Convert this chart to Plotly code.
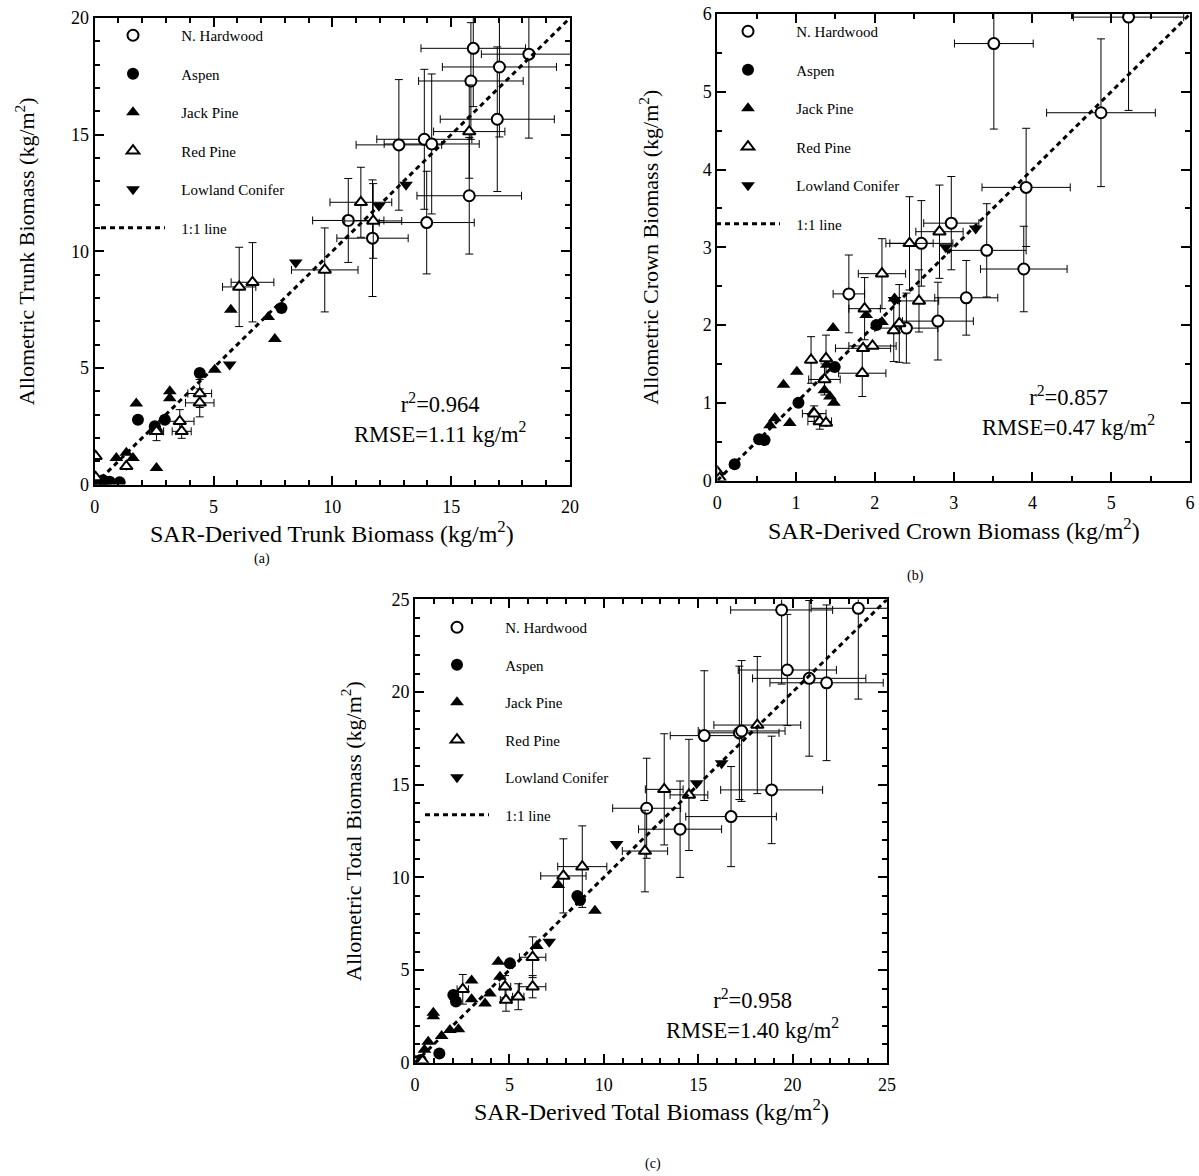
import plotly.graph_objects as go

FONT = "Liberation Serif, Times New Roman, serif"
W, H = 1199, 1176

# ---------------- Panel (a): Trunk biomass ----------------
trunk_hw_x = [15.93, 18.27, 17.03, 15.83, 16.94, 13.87, 14.18, 12.80, 15.76, 13.97, 10.67, 11.69]
trunk_hw_y = [18.70, 18.45, 17.90, 17.30, 15.66, 14.80, 14.60, 14.56, 12.38, 11.23, 11.32, 10.56]
trunk_hw_ex = [2.2, 2.0, 2.4, 2.2, 2.4, 2.0, 2.0, 1.8, 2.2, 2.0, 1.5, 1.5]
trunk_hw_ey = [2.5, 3.6, 3.0, 2.5, 3.1, 3.0, 3.0, 2.8, 2.5, 2.2, 1.8, 2.5]

trunk_aspen_x = [7.86, 4.42, 1.82, 2.95, 2.53, 0.07, 0.35, 0.63, 1.05]
trunk_aspen_y = [7.57, 4.78, 2.78, 2.78, 2.50, 0.12, 0.18, 0.12, 0.10]

trunk_jack_x = [5.73, 7.58, 7.30, 5.05, 3.16, 3.16, 1.75, 2.60, 2.60, 0.91, 1.33, 1.61, 0.20, 0.45]
trunk_jack_y = [7.49, 6.24, 7.18, 4.92, 4.00, 3.70, 3.47, 2.43, 0.71, 1.14, 1.36, 1.14, 0.05, 0.08]

trunk_red_x = [15.76, 11.20, 11.72, 9.68, 6.08, 6.64, 4.42, 4.42, 3.58, 3.66, 2.60, 1.33, 0.04, 0.04]
trunk_red_y = [15.13, 12.10, 11.30, 9.20, 8.47, 8.67, 3.50, 3.90, 2.71, 2.28, 2.28, 0.78, 1.21, 0.30]
trunk_red_ex = [1.5, 1.3, 1.2, 1.4, 0.7, 0.9, 0.6, 0.5, 0.6, 0.4, 0.3, None, None, None]
trunk_red_ey = [2.0, 1.5, 1.6, 1.8, 1.7, 1.7, 0.6, 0.6, 0.5, 0.3, 0.4, None, None, None]

trunk_low_x = [8.46, 5.68, 13.10, 11.96]
trunk_low_y = [9.52, 5.14, 12.85, 11.95]

trunk_line = [0, 20]

# ---------------- Panel (b): Crown biomass ----------------
crown_hw_x = [5.22, 3.51, 4.87, 3.92, 3.42, 3.89, 3.16, 2.97, 2.59, 2.80, 2.40, 1.67]
crown_hw_y = [5.96, 5.62, 4.73, 3.77, 2.96, 2.72, 2.35, 3.31, 3.05, 2.05, 1.96, 2.40]
crown_hw_ex = [0.70, 0.50, 0.69, 0.56, 0.50, 0.55, 0.40, 0.35, 0.40, 0.45, 0.40, 0.20]
crown_hw_ey = [1.20, 1.10, 0.95, 0.76, 0.60, 0.55, 0.48, 0.60, 0.55, 0.50, 0.45, 0.50]

crown_aspen_x = [1.03, 0.53, 0.60, 0.22, 2.02, 1.49]
crown_aspen_y = [1.00, 0.53, 0.52, 0.21, 2.00, 1.46]

crown_jack_x = [1.47, 1.01, 0.84, 1.89, 1.36, 1.48, 1.43, 0.73, 0.67, 0.92, 2.09, 1.22, 2.25, 1.39]
crown_jack_y = [1.96, 1.40, 1.23, 2.13, 1.16, 1.00, 1.08, 0.80, 0.71, 0.74, 2.04, 0.88, 2.34, 1.49]

crown_red_x = [2.82, 2.44, 2.09, 2.56, 1.87, 2.24, 2.31, 1.19, 1.38, 1.36, 1.85, 1.97, 1.84, 1.23, 1.30, 1.38, 0.00, 0.03]
crown_red_y = [3.20, 3.05, 2.66, 2.31, 2.21, 1.93, 2.02, 1.55, 1.57, 1.30, 1.70, 1.73, 1.38, 0.86, 0.76, 0.74, 0.11, 0.03]
crown_red_ex = [0.30, 0.30, 0.30, 0.25, 0.20, None, None, None, None, 0.20, 0.35, 0.30, 0.30, 0.15, 0.15, None, None, None]
crown_red_ey = [0.60, 0.60, 0.45, 0.40, 0.40, 0.40, 0.50, 0.30, 0.30, 0.20, None, None, 0.30, 0.10, 0.10, None, None, None]

crown_low_x = [3.28, 2.90, 2.25]
crown_low_y = [3.24, 3.00, 2.32]

crown_line = [0, 6]

# ---------------- Panel (c): Total biomass ----------------
total_hw_x = [19.42, 23.48, 19.72, 20.88, 21.80, 17.18, 17.30, 15.32, 18.89, 16.74, 14.04, 12.27]
total_hw_y = [24.43, 24.52, 21.19, 20.74, 20.50, 17.80, 17.90, 17.65, 14.72, 13.28, 12.60, 13.73]
total_hw_ex = [2.7, 2.5, 2.6, 3.0, 3.0, 2.1, 2.3, 1.8, 2.7, 2.4, 2.2, 1.8]
total_hw_ey = [4.0, 4.9, 3.0, 4.2, 4.2, 3.6, 3.8, 3.5, 2.9, 2.7, 2.6, 2.7]

total_aspen_x = [8.74, 8.60, 5.03, 2.03, 2.17, 1.29, 0.30]
total_aspen_y = [8.78, 9.00, 5.36, 3.65, 3.30, 0.50, 0.15]

total_jack_x = [7.59, 9.53, 6.45, 4.41, 4.50, 3.00, 3.00, 3.97, 3.71, 0.97, 0.97, 2.30, 1.85, 1.41, 0.70, 0.50]
total_jack_y = [9.59, 8.20, 6.30, 5.45, 4.64, 4.43, 3.42, 3.74, 3.20, 2.70, 2.50, 1.80, 1.76, 1.44, 1.13, 0.70]

total_red_x = [18.13, 13.20, 14.51, 12.18, 8.86, 7.86, 6.23, 6.23, 5.47, 4.82, 4.77, 2.53, 0.05, 0.40]
total_red_y = [18.22, 14.75, 14.45, 11.42, 10.58, 10.08, 5.69, 4.10, 3.56, 3.38, 4.10, 3.96, 0.05, 0.10]
total_red_ex = [2.3, 1.0, 1.0, 1.2, 1.3, 1.2, 0.7, 0.7, 0.3, 0.3, 0.3, 0.3, None, None]
total_red_ey = [3.7, 3.0, 3.0, 2.2, 2.2, 2.0, 1.1, 0.6, 0.7, 0.6, 0.6, 0.8, None, None]

total_low_x = [10.68, 7.11, 16.24, 14.92]
total_low_y = [11.80, 6.53, 16.16, 15.08]

total_line = [0, 25]

species_names = ["N. Hardwood", "Aspen", "Jack Pine", "Red Pine", "Lowland Conifer"]
line_name = "1:1 line"

x_titles = {
    "a": "SAR-Derived Trunk Biomass (kg/m<sup>2</sup>)",
    "b": "SAR-Derived Crown Biomass (kg/m<sup>2</sup>)",
    "c": "SAR-Derived Total Biomass (kg/m<sup>2</sup>)",
}
y_titles = {
    "a": "Allometric Trunk Biomass (kg/m<sup>2</sup>)",
    "b": "Allometric Crown Biomass (kg/m<sup>2</sup>)",
    "c": "Allometric Total Biomass (kg/m<sup>2</sup>)",
}
stats_text = {
    "a": "r<sup>2</sup>=0.964<br>RMSE=1.11 kg/m<sup>2</sup>",
    "b": "r<sup>2</sup>=0.857<br>RMSE=0.47 kg/m<sup>2</sup>",
    "c": "r<sup>2</sup>=0.958<br>RMSE=1.40 kg/m<sup>2</sup>",
}

# ---------------- styles ----------------
STYLES = {
    "N. Hardwood": dict(symbol="circle", color="white", size=11, line=dict(color="black", width=2)),
    "Aspen": dict(symbol="circle", color="black", size=12, line=dict(color="black", width=0)),
    "Jack Pine": dict(symbol="triangle-up", color="black", size=12, line=dict(color="black", width=0)),
    "Red Pine": dict(symbol="triangle-up", color="white", size=11, line=dict(color="black", width=2)),
    "Lowland Conifer": dict(symbol="triangle-down", color="black", size=12, line=dict(color="black", width=0)),
}
PAD = "\u00a0\u00a0\u00a0"


def px_x(a, b):
    return [a / W, b / W]


def px_y(top, bottom):
    return [1 - bottom / H, 1 - top / H]


panels = [
    dict(key="a", xa="x", ya="y", leg="legend",
         series=[(trunk_hw_x, trunk_hw_y, trunk_hw_ex, trunk_hw_ey),
                 (trunk_aspen_x, trunk_aspen_y, None, None),
                 (trunk_jack_x, trunk_jack_y, None, None),
                 (trunk_red_x, trunk_red_y, trunk_red_ex, trunk_red_ey),
                 (trunk_low_x, trunk_low_y, None, None)],
         line=trunk_line),
    dict(key="b", xa="x2", ya="y2", leg="legend2",
         series=[(crown_hw_x, crown_hw_y, crown_hw_ex, crown_hw_ey),
                 (crown_aspen_x, crown_aspen_y, None, None),
                 (crown_jack_x, crown_jack_y, None, None),
                 (crown_red_x, crown_red_y, crown_red_ex, crown_red_ey),
                 (crown_low_x, crown_low_y, None, None)],
         line=crown_line),
    dict(key="c", xa="x3", ya="y3", leg="legend3",
         series=[(total_hw_x, total_hw_y, total_hw_ex, total_hw_ey),
                 (total_aspen_x, total_aspen_y, None, None),
                 (total_jack_x, total_jack_y, None, None),
                 (total_red_x, total_red_y, total_red_ex, total_red_ey),
                 (total_low_x, total_low_y, None, None)],
         line=total_line),
]

fig = go.Figure()

for p in panels:
    for name, (sx, sy, ex, ey) in zip(species_names, p["series"]):
        st = STYLES[name]
        tr = dict(
            x=sx, y=sy, mode="markers", name=PAD + name,
            xaxis=p["xa"], yaxis=p["ya"], legend=p["leg"],
            legendgroup=p["key"] + name, legendrank=species_names.index(name) + 1,
            marker=dict(symbol=st["symbol"], color=st["color"], size=st["size"], line=st["line"]),
        )
        if ex is not None:
            tr["error_x"] = dict(type="data", array=ex, visible=True, color="black", thickness=1, width=4)
            tr["error_y"] = dict(type="data", array=ey, visible=True, color="black", thickness=1, width=4)
        fig.add_trace(go.Scatter(**tr))
    fig.add_trace(go.Scatter(
        x=p["line"], y=p["line"], mode="lines", name=PAD + line_name,
        xaxis=p["xa"], yaxis=p["ya"], legend=p["leg"],
        legendgroup=p["key"] + "line", legendrank=10,
        line=dict(color="black", width=3, dash="5px,4px"),
    ))

axis_common = dict(
    showline=True, linewidth=2, linecolor="black", mirror="allticks",
    ticks="inside", ticklen=9, tickwidth=1.5, tickcolor="black",
    showgrid=False, zeroline=False, automargin=False,
    tickfont=dict(family=FONT, size=18, color="black"),
)
xtitle_font = dict(family=FONT, size=24, color="black")
ytitle_font = dict(family=FONT, size=22, color="black")

fig.update_layout(
    width=W, height=H,
    margin=dict(l=0, r=0, t=0, b=0),
    paper_bgcolor="white", plot_bgcolor="white",
    showlegend=True,
    xaxis=dict(**axis_common, domain=px_x(94.7, 570), range=[0, 20], dtick=5, tick0=0,
               minor=dict(ticks="inside", dtick=1, ticklen=5, tickcolor="black"),
               anchor="y", ticklabelstandoff=5),
    yaxis=dict(**axis_common, domain=px_y(18, 484.5), range=[0, 20], dtick=5, tick0=0,
               minor=dict(ticks="inside", dtick=1, ticklen=5, tickcolor="black"),
               anchor="x",
               title=dict(text=y_titles["a"], font=ytitle_font, standoff=30)),
    xaxis2=dict(**axis_common, domain=px_x(717.3, 1190), range=[0, 6], dtick=1, tick0=0,
                minor=dict(ticks="inside", dtick=0.5, ticklen=5, tickcolor="black"),
                anchor="y2", ticklabelstandoff=5),
    yaxis2=dict(**axis_common, domain=px_y(14, 480.5), range=[0, 6], dtick=1, tick0=0,
                minor=dict(ticks="inside", dtick=0.5, ticklen=5, tickcolor="black"),
                anchor="x2",
                title=dict(text=y_titles["b"], font=ytitle_font, standoff=38)),
    xaxis3=dict(**axis_common, domain=px_x(415, 887), range=[0, 25], dtick=5, tick0=0,
                minor=dict(ticks="inside", dtick=1, ticklen=5, tickcolor="black"),
                anchor="y3", ticklabelstandoff=5),
    yaxis3=dict(**axis_common, domain=px_y(599.4, 1062.7), range=[0, 25], dtick=5, tick0=0,
                minor=dict(ticks="inside", dtick=1, ticklen=5, tickcolor="black"),
                anchor="x3",
                title=dict(text=y_titles["c"], font=ytitle_font, standoff=24)),
)

leg_common = dict(
    xanchor="left", yanchor="top", bgcolor="rgba(0,0,0,0)", borderwidth=0,
    font=dict(family=FONT, size=15, color="black"),
    traceorder="grouped", itemwidth=64,
)
fig.update_layout(
    legend=dict(**leg_common, tracegroupgap=16, x=96 / W, y=1 - 19 / H),
    legend2=dict(**leg_common, tracegroupgap=16, x=711 / W, y=1 - 15 / H),
    legend3=dict(**leg_common, tracegroupgap=15, x=420 / W, y=1 - 611 / H),
)

ann = []
# x-axis titles placed just below the tick labels
for key, xr, ypx in [("a", "x", 532), ("b", "x2", 529), ("c", "x3", 1110)]:
    ann.append(dict(text=x_titles[key], xref=xr + " domain", yref="paper",
                    x=0.5, y=1 - ypx / H, xanchor="center", yanchor="middle",
                    showarrow=False, font=xtitle_font))
for key, xr, yr, fx, fy in [("a", "x", "y", 0.7265, 0.1425),
                              ("b", "x2", "y2", 0.742, 0.149),
                              ("c", "x3", "y3", 0.716, 0.105)]:
    ann.append(dict(text=stats_text[key], xref=xr + " domain", yref=yr + " domain",
                    x=fx, y=fy, xanchor="center", yanchor="middle", showarrow=False,
                    align="center", font=dict(family=FONT, size=22.5, color="black")))
for lab, x, y in [("(a)", 262, 559), ("(b)", 915, 576), ("(c)", 653, 1164)]:
    ann.append(dict(text=lab, xref="paper", yref="paper", x=x / W, y=1 - y / H,
                    xanchor="center", yanchor="middle", showarrow=False,
                    font=dict(family=FONT, size=14, color="black")))
fig.update_layout(annotations=ann)

fig.write_html("out.html")
